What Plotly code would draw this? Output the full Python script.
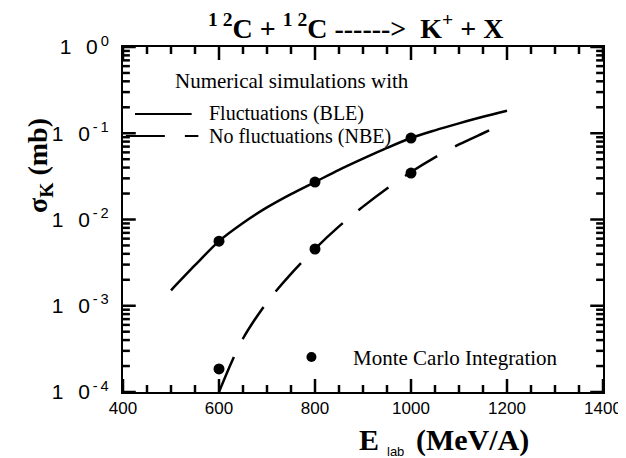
import plotly.graph_objects as go

# ---- data ----
E_ble = [500, 550, 600, 650, 700, 750, 800, 850, 900, 950, 1000, 1050, 1100, 1150, 1200]
sigma_ble = [1.51e-3, 2.95e-3, 5.62e-3, 9.12e-3, 1.38e-2, 1.97e-2, 2.72e-2, 3.76e-2,
             5.07e-2, 6.76e-2, 8.81e-2, 0.108, 0.130, 0.155, 0.182]

E_nbe = [600, 625, 650, 700, 750, 800, 850, 900, 950, 1000, 1050, 1100, 1150, 1175]
sigma_nbe = [1.0e-4, 2.14e-4, 4.17e-4, 1.10e-3, 2.34e-3, 4.57e-3, 8.32e-3, 1.41e-2,
             2.29e-2, 3.55e-2, 5.25e-2, 7.41e-2, 0.100, 0.116]

E_mc = [600, 800, 1000]
mc_ble = [5.6e-3, 2.72e-2, 8.8e-2]
mc_nbe = [1.85e-4, 4.55e-3, 3.45e-2]

x_range = [400, 1400]
y_range_log = [-4, 0]
x_major = [400, 600, 800, 1000, 1200, 1400]
x_minor = [v for v in range(400, 1401, 50) if v not in x_major]
y_major = [1e-4, 1e-3, 1e-2, 1e-1, 1]
y_ticktext = ["1\u2002\u20090<sup>\u2009-\u20094</sup>", "1\u2002\u20090<sup>\u2009-\u20093</sup>",
              "1\u2002\u20090<sup>\u2009-\u20092</sup>", "1\u2002\u20090<sup>\u2009-\u20091</sup>",
              "1\u2002\u20090<sup>\u20090</sup>"]
y_minor = [m * 10.0 ** e for e in (-4, -3, -2, -1) for m in range(2, 10)]

title_text = "<b><sup>1 2</sup>C + <sup>1 2</sup>C ------&gt;  K<sup>+</sup> + X</b>"
legend_head = "Numerical simulations with"
legend_ble = "Fluctuations (BLE)"
legend_nbe = "No fluctuations (NBE)"
legend_mc = "Monte Carlo Integration"

SERIF = "Liberation Serif"
SANS = "Liberation Sans"

W, H = 626, 458
M = dict(l=115, r=22, t=39, b=74)
px_per_decade = (H - M["t"] - M["b"]) / (y_range_log[1] - y_range_log[0])
px_per_unit = (W - M["l"] - M["r"]) / (x_range[1] - x_range[0])
y_lo, y_hi = 10.0 ** y_range_log[0], 10.0 ** y_range_log[1]

fig = go.Figure()
fig.add_trace(go.Scatter(x=E_ble, y=sigma_ble, mode="lines",
                         line=dict(color="black", width=2.5, shape="spline", smoothing=0.8),
                         showlegend=False))
fig.add_trace(go.Scatter(x=E_nbe, y=sigma_nbe, mode="lines",
                         line=dict(color="black", width=2.5, shape="spline", smoothing=0.8,
                                   dash="38px,20px"),
                         showlegend=False))
fig.add_trace(go.Scatter(x=E_mc + E_mc, y=mc_ble + mc_nbe, mode="markers",
                         marker=dict(color="black", size=11), showlegend=False))

# ---- inward tick marks on all four sides, placed at the tick values ----
tx, ty = [], []
for vals, ln in ((x_major, 13), (x_minor, 7)):
    f = 10.0 ** (ln / px_per_decade)
    for v in vals:
        tx += [v, v, None, v, v, None]
        ty += [y_lo, y_lo * f, None, y_hi, y_hi / f, None]
for vals, ln in ((y_major, 13), (y_minor, 7)):
    d = ln / px_per_unit
    for v in vals:
        tx += [x_range[0], x_range[0] + d, None, x_range[1], x_range[1] - d, None]
        ty += [v, v, None, v, v, None]
fig.add_trace(go.Scatter(x=tx, y=ty, mode="lines", line=dict(color="black", width=2.5),
                         hoverinfo="skip", showlegend=False, connectgaps=False,
                         cliponaxis=False))

fig.update_xaxes(range=x_range, tickmode="array", tickvals=x_major, ticks="",
                 showline=True, linecolor="black", linewidth=2, mirror=True,
                 showgrid=False, zeroline=False,
                 tickfont=dict(family=SANS, size=17, color="black"))
fig.update_yaxes(type="log", range=y_range_log, tickmode="array", tickvals=y_major, ticktext=y_ticktext,
                 ticks="", showline=True, linecolor="black", linewidth=2, mirror=True,
                 showgrid=False, zeroline=False, ticklabelstandoff=8,
                 tickfont=dict(family=SANS, size=21, color="black"))

# ---- legend drawn as in the original figure ----
shapes = [
    dict(type="line", xref="paper", yref="paper", x0=0.025, x1=0.143, y0=0.806, y1=0.806,
         line=dict(color="black", width=2)),
    dict(type="line", xref="paper", yref="paper", x0=0.006, x1=0.157, y0=0.742, y1=0.742,
         line=dict(color="black", width=2, dash="39px,20px")),
    dict(type="circle", xref="paper", yref="paper", xsizemode="pixel", ysizemode="pixel",
         xanchor=0.3926, yanchor=0.1014, x0=-5, x1=5, y0=-5, y1=5,
         fillcolor="black", line=dict(color="black", width=0)),
]

ann = []
ann.append(dict(text=title_text, xref="paper", yref="paper", x=0.485, y=1.0, yshift=1,
                xanchor="center", yanchor="bottom", showarrow=False,
                font=dict(family=SERIF, size=28, color="black")))
ann.append(dict(text="<b>σ<sub>K</sub> (mb)</b>", xref="paper", yref="paper", x=-0.175, y=0.655,
                textangle=-90, xanchor="center", yanchor="middle", showarrow=False,
                font=dict(family=SERIF, size=28, color="black")))
ann.append(dict(text="<b>E</b>", xref="paper", yref="paper", x=0.4867, y=-0.139,
                xanchor="left", yanchor="middle", showarrow=False,
                font=dict(family=SERIF, size=30, color="black")))
ann.append(dict(text="lab", xref="paper", yref="paper", x=0.545, y=-0.20,
                xanchor="left", yanchor="bottom", showarrow=False,
                font=dict(family=SANS, size=13, color="black")))
ann.append(dict(text="<b>(MeV/A)</b>", xref="paper", yref="paper", x=0.607, y=-0.139,
                xanchor="left", yanchor="middle", showarrow=False,
                font=dict(family=SERIF, size=30, color="black")))
ann.append(dict(text=legend_head, xref="paper", yref="paper", x=0.104, y=0.901,
                xanchor="left", yanchor="middle", showarrow=False,
                font=dict(family=SERIF, size=21, color="black")))
ann.append(dict(text=legend_ble, xref="paper", yref="paper", x=0.174, y=0.806,
                xanchor="left", yanchor="middle", showarrow=False,
                font=dict(family=SERIF, size=20, color="black")))
ann.append(dict(text=legend_nbe, xref="paper", yref="paper", x=0.174, y=0.742,
                xanchor="left", yanchor="middle", showarrow=False,
                font=dict(family=SERIF, size=20, color="black")))
ann.append(dict(text=legend_mc, xref="paper", yref="paper", x=0.476, y=0.099,
                xanchor="left", yanchor="middle", showarrow=False,
                font=dict(family=SERIF, size=21, color="black")))

fig.update_layout(width=W, height=H, margin=M,
                  paper_bgcolor="white", plot_bgcolor="white",
                  annotations=ann, shapes=shapes, showlegend=False)

fig.write_html("out.html")
